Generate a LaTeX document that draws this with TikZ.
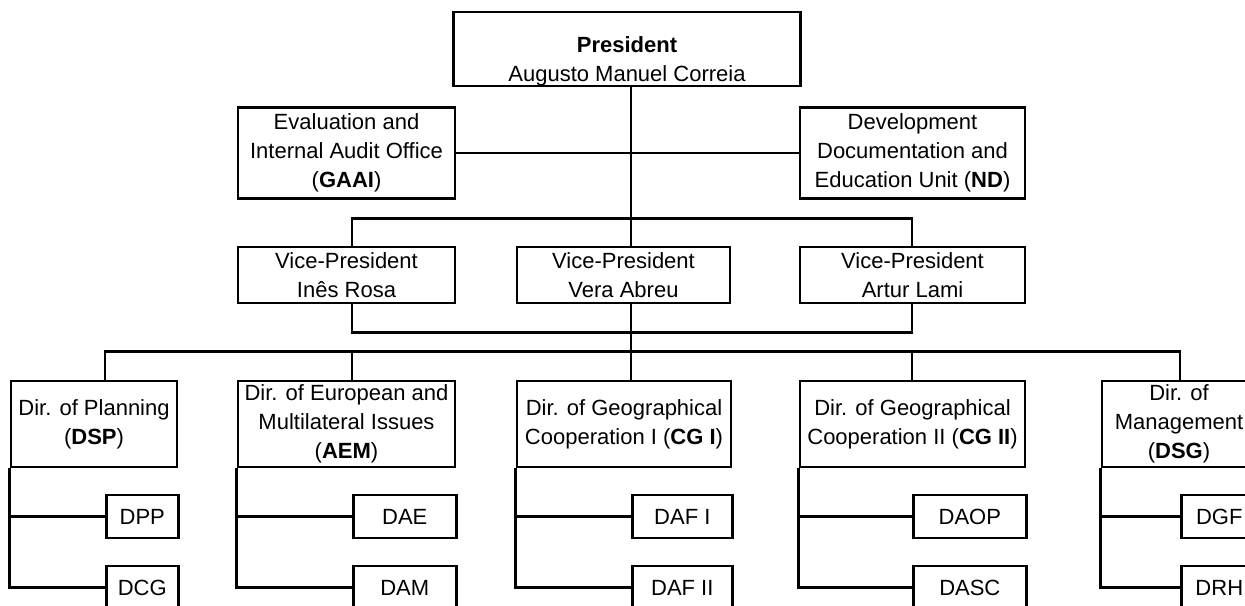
\documentclass[tikz,border=0pt]{standalone}
\usepackage{fontspec}
\setmainfont{Liberation Sans}
\usepackage{tikz}
\usetikzlibrary{positioning, calc}

\begin{document}
\begin{tikzpicture}[
    x=0.5pt, y=-0.5pt,
    box/.style={draw, line width=1.3pt, inner sep=0pt, align=center, font=\fontsize{11}{14.5}\selectfont},
    sub/.style={box, minimum height=21.5pt, anchor=west},
    link/.style={line width=1.3pt},
]
    \useasboundingbox (0,0) rectangle (1245,605);
    \clip (0,0) rectangle (1245,605);

    % columns of the director row
    \coordinate (c1) at (105,0);
    \coordinate (c2) at (352,0);
    \coordinate (c3) at (631,0);
    \coordinate (c4) at (912,0);
    \coordinate (c5) at (1180,0);

    % top
    \node[box, minimum width=173.5pt, minimum height=37pt] (pres) at (627,49) {\rule{0pt}{20pt}\textbf{President}\\Augusto Manuel Correia};
    \node[box, minimum width=108.5pt, minimum height=45.5pt] (gaai) at (346.5,153) {Evaluation and\\Internal Audit Office\\(\textbf{GAAI})};
    \node[box, minimum width=112.5pt, minimum height=45.5pt] (nd) at (912.5,153) {Development\\Documentation and\\Education Unit (\textbf{ND})};

    % vice-presidents
    \node[box, minimum width=108.5pt, minimum height=28pt] (vp1) at (346.5,275) {Vice-President\\Inês Rosa};
    \node[box, minimum width=106.5pt, minimum height=28pt] (vp2) at (623.5,275) {Vice-President\\Vera Abreu};
    \node[box, minimum width=112.5pt, minimum height=28pt] (vp3) at (912.5,275) {Vice-President\\Artur Lami};

    % directors
    \node[box, minimum width=83pt, minimum height=43pt] (dsp) at (94,424) {Dir. of Planning\\(\textbf{DSP})};
    \node[box, minimum width=108.5pt, minimum height=43pt] (aem) at (346.5,424) {Dir. of European and\\Multilateral Issues\\(\textbf{AEM})};
    \node[box, minimum width=107pt, minimum height=43pt] (cg1) at (624,424) {Dir. of Geographical\\Cooperation I (\textbf{CG I})};
    \node[box, minimum width=112.5pt, minimum height=43pt] (cg2) at (912.5,424) {Dir. of Geographical\\Cooperation II (\textbf{CG II})};
    \node[box, minimum width=77pt, minimum height=43pt] (dsg) at (1179,424) {Dir. of\\Management\\(\textbf{DSG})};

    % divisions
    \node[sub, minimum width=36pt] (dpp) at (105,516.5) {DPP};
    \node[sub, minimum width=36pt] (dcg) at (105,587.5) {DCG};
    \node[sub, minimum width=51.5pt] (dae) at (352,516.5) {DAE};
    \node[sub, minimum width=51.5pt] (dam) at (352,587.5) {DAM};
    \node[sub, minimum width=50pt] (dafi) at (631,516.5) {DAF I};
    \node[sub, minimum width=50pt] (dafii) at (631,587.5) {DAF II};
    \node[sub, minimum width=56.5pt] (daop) at (912,516.5) {DAOP};
    \node[sub, minimum width=56.5pt] (dasc) at (912,587.5) {DASC};
    \node[sub, minimum width=38pt] (dgf) at (1180,516.5) {DGF};
    \node[sub, minimum width=38pt] (drh) at (1180,587.5) {DRH};

    % links
    \draw[link] (pres.south -| c3) -- (vp2.north -| c3);
    \draw[link] (gaai) -- (nd);
    \draw[link] (vp1.north -| c2) -- ++(0,-27) -| (vp3.north -| c4);
    \draw[link] (vp1.south -| c2) -- ++(0,28) -| (vp3.south -| c4);
    \draw[link] (vp2.south -| c3) -- (cg1.north -| c3);
    \draw[link] (dsp.north -| c1) -- ++(0,-28) -| (dsg.north -| c5);
    \foreach \d/\c in {aem/c2, cg2/c4}
        \draw[link] (\d.north -| \c) -- ++(0,-28);
    \foreach \d/\a/\b in {dsp/dpp/dcg, aem/dae/dam, cg1/dafi/dafii, cg2/daop/dasc, dsg/dgf/drh} {
        \draw[link] (\d.south west) |- (\b.west);
        \draw[link] (\d.south west |- \a.west) -- (\a.west);
    }
\end{tikzpicture}
\end{document}
